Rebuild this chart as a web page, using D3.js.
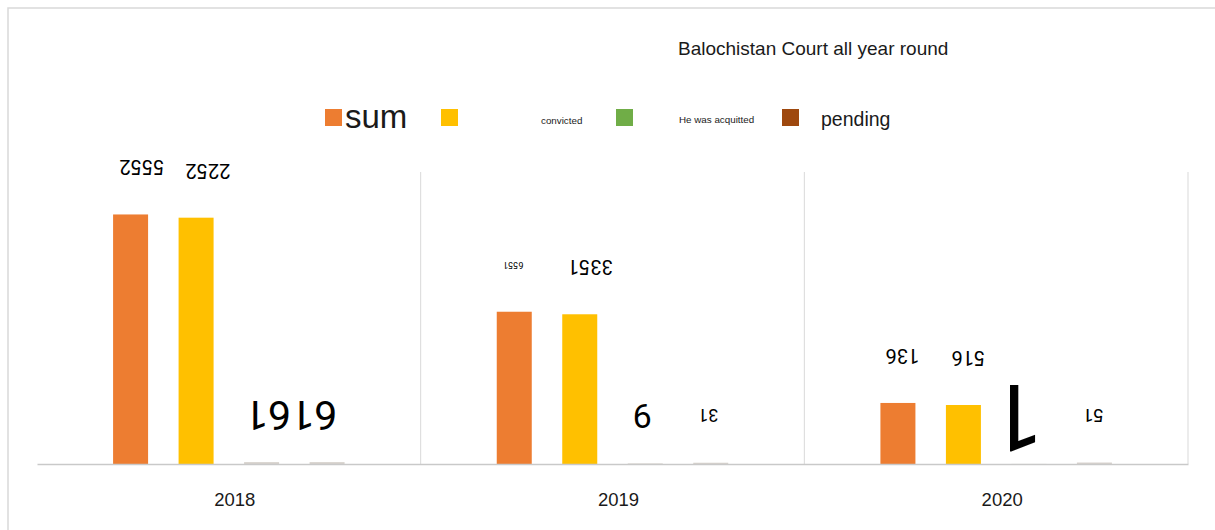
<!DOCTYPE html>
<html><head><meta charset="utf-8">
<script src="https://cdn.jsdelivr.net/npm/d3@7"></script>
<style>
html,body{margin:0;padding:0;background:#fff;}
svg{display:block;font-family:"Liberation Sans",Arial,sans-serif;}
</style></head>
<body>
<script>
// ---- data ----
const years = ["2018", "2019", "2020"];
const seriesKeys = ["sum", "convicted", "acquitted", "pending"];
const seriesNames = ["sum", "convicted", "He was acquitted", "pending"];
const sumValues = [2555, 1559, 625];
const convictedValues = [2522, 1533, 604];
const acquittedValues = [19, 6, 1];
const pendingValues = [19, 13, 15];
// data labels as printed (each rendered upside down)
const labelYear = ["2018", "2018", "2018", "2019", "2019", "2019", "2019", "2020", "2020", "2020", "2020"];
const labelSeries = ["sum", "convicted", "acquitted", "sum", "convicted", "acquitted", "pending", "sum", "convicted", "acquitted", "pending"];
const labelText = ["5552", "2252", "6161", "6551", "3351", "9", "31", "136", "516", "1", "51"];
const chartTitle = "Balochistan Court all year round";

// ---- styles ----
const colors = {sum: "#ED7D31", convicted: "#FFC000", acquitted: "#70AD47", pending: "#9E480E"};
const tinyBarColor = "#d6d1cb";
const labelFont = "Roboto, 'Liberation Sans', Arial, sans-serif";
const labelSize = [20, 20, 41, 9, 20, 34, 18, 20, 20, 92, 19];
const labelDx = [11.5, 12, 29.5, -1, 10.5, -3, -2.5, 4.5, 5, -12, -1];
const legendBoxX = [325, 441, 616, 782];
const legendTextX = [345, 541, 679, 821];
const legendSize = [33, 9.8, 9.8, 19.5];
const legendBaseline = [128, 124, 123, 126];

const W = 1215, H = 530;
const svg = d3.select("body").append("svg").attr("width", W).attr("height", H);

// outer frame
svg.append("path").attr("d", `M8,${H} V8 H${W}`).attr("fill", "none").attr("stroke", "#d9d9d9").attr("stroke-width", 1.5);

const valuesBy = {sum: sumValues, convicted: convictedValues, acquitted: acquittedValues, pending: pendingValues};
const rows = years.map((yr, i) => ({year: yr, sum: sumValues[i], convicted: convictedValues[i], acquitted: acquittedValues[i], pending: pendingValues[i]}));

const x0 = d3.scaleBand().domain(years).range([37, 1188]).paddingInner(0).paddingOuter(0);
const x1 = d3.scaleBand().domain(seriesKeys).range([0, x0.bandwidth()]).paddingInner(0.4656).paddingOuter(1.1616);
const y = d3.scaleLinear().domain([0, 3000]).range([464, 171]);

// vertical separators
svg.append("g").selectAll("line").data(years).join("line")
  .attr("x1", d => x0(d) + x0.bandwidth()).attr("x2", d => x0(d) + x0.bandwidth())
  .attr("y1", y(0)).attr("y2", 172)
  .attr("stroke", "#d9d9d9").attr("stroke-width", 1);

// bars
const g = svg.append("g").selectAll("g").data(rows).join("g").attr("transform", d => `translate(${x0(d.year)},0)`);
g.selectAll("rect").data(d => seriesKeys.map(k => ({key: k, value: d[k]}))).join("rect")
  .attr("x", d => x1(d.key)).attr("width", x1.bandwidth())
  .attr("y", d => y(d.value)).attr("height", d => y(0) - y(d.value))
  .attr("fill", d => (d.key === "sum" || d.key === "convicted") ? colors[d.key] : tinyBarColor);

// baseline axis
const xAxis = d3.axisBottom(x0).tickSize(0).tickPadding(29);
const ax = svg.append("g").attr("transform", `translate(0,${y(0)})`).call(xAxis);
ax.attr("font-family", null);
ax.select(".domain").attr("stroke", "#c9c9c9").attr("stroke-width", 1.5);
ax.selectAll("text").attr("font-size", 18.5).attr("fill", "#1a1a1a").attr("dx", 6)
  .attr("font-family", "'Liberation Sans',Arial,sans-serif");

// data labels (upside down)
const labels = labelText.map((t, i) => ({text: t, year: labelYear[i], key: labelSeries[i], i}));
svg.append("g").selectAll("text").data(labels).join("text")
  .each(function(d) {
    const idx = years.indexOf(d.year);
    const cx = x0(d.year) + x1(d.key) + x1.bandwidth() / 2 + labelDx[d.i];
    const cy = y(valuesBy[d.key][idx]) - 47;
    d3.select(this).attr("x", cx).attr("y", cy)
      .attr("transform", `rotate(180,${cx},${cy})`);
  })
  .attr("text-anchor", "middle").attr("dominant-baseline", "central")
  .attr("font-family", labelFont)
  .attr("font-size", d => labelSize[d.i]).attr("fill", "#000")
  .text(d => d.text);

// title
svg.append("text").attr("x", 678).attr("y", 55).attr("font-size", 19).attr("fill", "#1a1a1a").text(chartTitle);

// legend
const leg = svg.append("g");
seriesKeys.forEach((k, i) => {
  leg.append("rect").attr("x", legendBoxX[i]).attr("y", 109).attr("width", 17).attr("height", 17).attr("fill", colors[k]);
  leg.append("text").attr("x", legendTextX[i]).attr("y", legendBaseline[i]).attr("font-size", legendSize[i]).attr("fill", "#1a1a1a").text(seriesNames[i]);
});
</script>
</body></html>
